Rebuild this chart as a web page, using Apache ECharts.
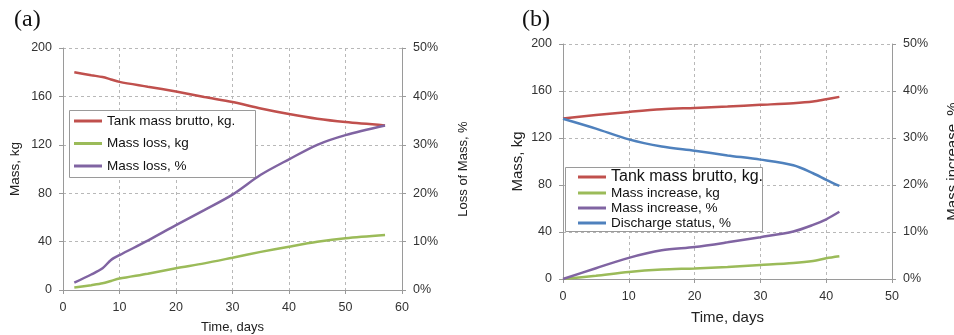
<!DOCTYPE html>
<html><head><meta charset="utf-8">
<script src="https://cdn.jsdelivr.net/npm/echarts@6/dist/echarts.min.js"></script>
<style>html,body{margin:0;padding:0;background:#fff}#c{width:954px;height:335px}</style>
</head><body><div id="c"></div>
<script>
// Panel (a)
const daysA = [2, 5, 7, 8.5, 10, 15, 20, 25, 30, 35, 40, 45, 50, 57];
const tankA = [180, 177.5, 176, 174, 172, 168, 164, 159.5, 155.3, 150, 145.4, 141.5, 138.8, 136];
const lossKgA = [2, 4, 5.5, 7.5, 9.5, 13.5, 18, 22, 26.7, 31.5, 35.8, 39.8, 42.8, 45.5];
const lossPctA = [1.5, 3.2, 4.5, 6.2, 7.2, 10.2, 13.4, 16.5, 19.7, 23.8, 27, 30, 32, 34];
// Panel (b)
const daysB = [0, 5, 10, 15, 20, 25, 30, 35, 38, 40, 42];
const tankB = [136.5, 139.5, 142.2, 144.5, 145.6, 146.8, 148.2, 149.6, 151, 153, 155];
const incKgB = [0, 2.8, 6, 8, 9, 10.3, 11.9, 13.6, 15.3, 17.6, 19.3];
const incPctB = [0, 2.3, 4.5, 6.1, 6.8, 7.8, 8.9, 10.1, 11.5, 12.7, 14.3];
const dischB = [34.1, 32, 29.7, 28.2, 27.3, 26.3, 25.4, 24.2, 22.5, 21.1, 19.8];

const RED = '#C0504D', GREEN = '#9BBB59', PURPLE = '#8064A2', BLUE = '#4F81BD';
const FONT = 'Liberation Sans';
const zip = (xs, ys) => xs.map((x, i) => [x, ys[i]]);

function xAx(gi, max, fs, gap) {
  return {
    type: 'value', gridIndex: gi, min: 0, max: max, interval: 10,
    name: 'Time, days', nameLocation: 'middle', nameGap: gap,
    nameTextStyle: {fontFamily: FONT, fontSize: fs, color: '#222'},
    axisLine: {lineStyle: {color: '#9a9a9a'}},
    axisTick: {show: true, length: 4, lineStyle: {color: '#9a9a9a'}},
    axisLabel: {fontFamily: FONT, fontSize: 12.5, color: '#333', margin: 11},
    splitLine: {show: true, lineStyle: {color: '#b8b8b8', type: [3, 3]}}
  };
}
function yAx(gi, pos, max, interval, name, fs, pct, gap) {
  return {
    type: 'value', gridIndex: gi, position: pos, min: 0, max: max, interval: interval,
    name: name, nameLocation: 'middle', nameRotate: 90, nameGap: gap,
    nameTextStyle: {fontFamily: FONT, fontSize: fs, color: '#222'},
    axisLine: {show: true, lineStyle: {color: '#9a9a9a'}},
    axisTick: {show: true, length: 4, lineStyle: {color: '#9a9a9a'}},
    axisLabel: {fontFamily: FONT, fontSize: 12.5, color: '#333', margin: 11,
      formatter: pct ? '{value}%' : '{value}'},
    splitLine: {show: !pct, lineStyle: {color: '#b8b8b8', type: [3, 3]}}
  };
}
function ln(name, data, color, xi, yi) {
  return {type: 'line', name: name, data: data, xAxisIndex: xi, yAxisIndex: yi,
    smooth: 0.3, symbol: 'none', lineStyle: {color: color, width: 2.5}, itemStyle: {color: color}};
}

const chart = echarts.init(document.getElementById('c'));
chart.setOption({
  animation: false,
  backgroundColor: '#fff',
  grid: [
    {left: 63, top: 48, width: 339, height: 242, outerBoundsMode: 'none', containLabel: false},
    {left: 563, top: 44, width: 329, height: 235, outerBoundsMode: 'none', containLabel: false}
  ],
  xAxis: [xAx(0, 60, 13, 31), xAx(1, 50, 15, 31)],
  yAxis: [
    yAx(0, 'left', 200, 40, 'Mass, kg', 13.5, false, 41),
    yAx(0, 'right', 50, 10, 'Loss of Mass, %', 13, true, 55),
    yAx(1, 'left', 200, 40, 'Mass, kg', 15, false, 38),
    yAx(1, 'right', 50, 10, 'Mass increase, %', 15, true, 53)
  ],
  legend: [
    {orient: 'vertical', left: 74, top: 114, padding: 0, itemGap: 8.5, itemWidth: 28, itemHeight: 3,
     icon: 'rect', textStyle: {fontFamily: FONT, fontSize: 13.5, color: '#111', lineHeight: 14},
     data: ['Tank mass brutto, kg.', 'Mass loss, kg', 'Mass loss, %']},
    {orient: 'vertical', left: 578, top: 169, padding: 0, itemGap: 1, itemWidth: 28, itemHeight: 3,
     icon: 'rect',
     formatter: n => n.indexOf('Tank') === 0 ? '{big|' + n.trim() + '}' : n,
     textStyle: {fontFamily: FONT, fontSize: 13.5, color: '#111', lineHeight: 14,
       rich: {big: {fontFamily: FONT, fontSize: 16, color: '#111', lineHeight: 14}}},
     data: ['Tank mass brutto, kg. ', 'Mass increase, kg', 'Mass increase, %', 'Discharge status, %']}
  ],
  graphic: [
    {type: 'rect', z: 1, shape: {x: 69.5, y: 110.5, width: 186, height: 67},
     style: {fill: '#fff', stroke: '#9a9a9a', lineWidth: 1}},
    {type: 'rect', z: 1, shape: {x: 565.5, y: 167.5, width: 197, height: 64},
     style: {fill: '#fff', stroke: '#9a9a9a', lineWidth: 1}},
    {type: 'text', left: 14, top: 8, style: {text: '(a)', font: '24px "Liberation Serif"', fill: '#111'}},
    {type: 'text', left: 522, top: 8, style: {text: '(b)', font: '24px "Liberation Serif"', fill: '#111'}}
  ],
  series: [
    ln('Tank mass brutto, kg.', zip(daysA, tankA), RED, 0, 0),
    ln('Mass loss, kg', zip(daysA, lossKgA), GREEN, 0, 0),
    ln('Mass loss, %', zip(daysA, lossPctA), PURPLE, 0, 1),
    ln('Tank mass brutto, kg. ', zip(daysB, tankB), RED, 1, 2),
    ln('Mass increase, kg', zip(daysB, incKgB), GREEN, 1, 2),
    ln('Mass increase, %', zip(daysB, incPctB), PURPLE, 1, 3),
    ln('Discharge status, %', zip(daysB, dischB), BLUE, 1, 3)
  ]
});
</script></body></html>
